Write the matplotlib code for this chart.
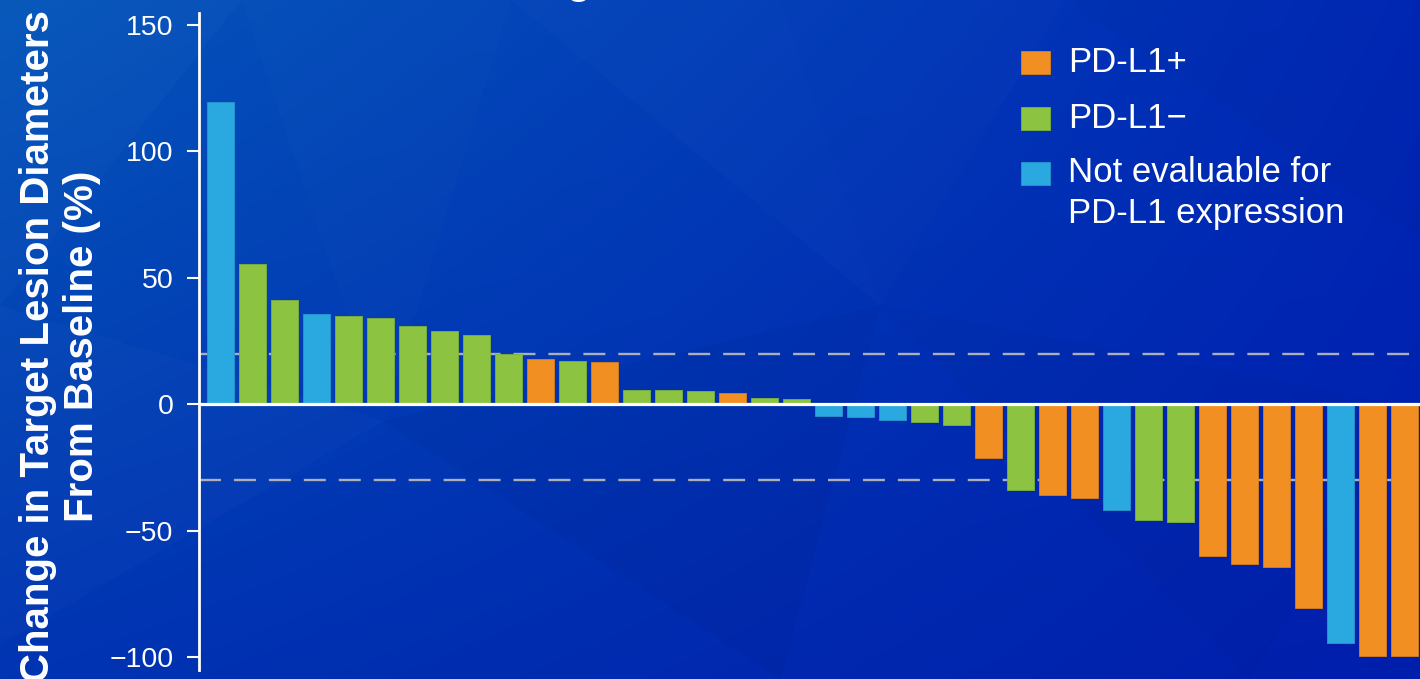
import numpy as np
import matplotlib.pyplot as plt
from matplotlib.patches import Rectangle, Polygon

# Best percentage change in target lesion diameters, one bar per patient
change_pct = [119.4, 55.6, 41.4, 35.8, 34.7, 34.2, 30.8, 28.9, 27.2, 19.9,
              18.0, 17.0, 16.8, 5.7, 5.6, 5.3, 4.6, 2.4, 2.1, -4.6,
              -5.0, -6.1, -7.0, -8.2, -21.4, -34.1, -35.8, -37.2, -41.7, -45.7,
              -46.7, -59.9, -63.0, -64.5, -80.5, -94.3, -99.7, -99.7]
pdl1_status = ['NE', 'neg', 'neg', 'NE', 'neg', 'neg', 'neg', 'neg', 'neg', 'neg',
               'pos', 'neg', 'pos', 'neg', 'neg', 'neg', 'pos', 'neg', 'neg', 'NE',
               'NE', 'NE', 'neg', 'neg', 'pos', 'neg', 'pos', 'pos', 'NE', 'neg',
               'neg', 'pos', 'pos', 'pos', 'pos', 'NE', 'pos', 'pos']
status_order = ['pos', 'neg', 'NE']
status_labels = ['PD-L1+', 'PD-L1\u2212', 'Not evaluable for\nPD-L1 expression']
reference_lines = [20, -30]
y_ticks = [-100, -50, 0, 50, 100, 150]

colors = {'pos': '#F28F22', 'neg': '#8CC442', 'NE': '#2AA8E0'}
edges = {'pos': '#D97F1E', 'neg': '#7DB23B', 'NE': '#2698CF'}

plt.rcParams['font.family'] = ['Liberation Sans', 'DejaVu Sans']

W, H = 1420, 679
fig = plt.figure(figsize=(W / 100, H / 100), dpi=100)

# Blue gradient backdrop with faint facets
bg = fig.add_axes([0, 0, 1, 1], zorder=-10)
yy, xx = np.mgrid[0:1:200j, 0:1:400j]
tl = np.array([5, 86, 186]); tr = np.array([0, 40, 182])
bl = np.array([0, 52, 178]); br = np.array([0, 30, 172])
img = ((1 - xx)[..., None] * ((1 - yy)[..., None] * tl + yy[..., None] * bl)
       + xx[..., None] * ((1 - yy)[..., None] * tr + yy[..., None] * br)) / 255
bg.imshow(img, extent=[0, 1, 1, 0], aspect='auto', interpolation='bicubic')
facets = [
    ([(0, 0), (0.17, 0), (0.0, 0.45)], 'white', 0.02),
    ([(0.17, 0), (0.36, 0), (0.27, 0.62)], 'white', 0.012),
    ([(0.0, 0.45), (0.27, 0.62), (0.0, 0.95)], 'white', 0.018),
    ([(0.36, 0), (0.55, 0.0), (0.62, 0.45)], 'white', 0.015),
    ([(0.27, 0.62), (0.62, 0.45), (0.55, 1.0)], 'black', 0.03),
    ([(0.62, 0.45), (1.0, 0.6), (0.88, 1.0)], 'black', 0.02),
    ([(0.75, 0), (1.0, 0), (1.0, 0.35)], 'black', 0.02),
    ([(0.55, 0.0), (0.75, 0), (0.62, 0.45)], 'white', 0.01),
]
for verts, c, a in facets:
    bg.add_patch(Polygon(verts, closed=True, facecolor=c, alpha=a, lw=0))
bg.set_xlim(0, 1); bg.set_ylim(1, 0)
bg.axis('off')

ax = fig.add_axes([199 / W, 9 / H, 1 - 199 / W, 657 / H])
ax.patch.set_alpha(0)

x = np.arange(len(change_pct))
ax.bar(x, change_pct, width=0.84,
       color=[colors[s] for s in pdl1_status],
       edgecolor=[edges[s] for s in pdl1_status], linewidth=0.6, zorder=2)

for yref in reference_lines:
    ax.axhline(yref, color='#ABAFBA', lw=1.7, ls=(0, (9.3, 5.5)), zorder=1)
ax.axhline(0, color='white', lw=2.3, zorder=3)

ax.set_xlim(-0.672, 37.48)
ax.set_ylim(-105.1, 154.7)
ax.set_yticks(y_ticks)
ax.tick_params(axis='y', colors='white', labelsize=20.5, length=8.5, width=1.5, pad=10)
ax.set_xticks([])
for side in ['top', 'right', 'bottom']:
    ax.spines[side].set_visible(False)
ax.spines['left'].set_color('white')
ax.spines['left'].set_linewidth(2.0)

fig.text(60 / W, 1 - 346 / H, 'Change in Target Lesion Diameters\nFrom Baseline (%)',
         rotation=90, ha='center', va='center', multialignment='center',
         fontsize=29, fontweight='bold', color='white', linespacing=1.2)

fig.text(368 / W, 1 + 6 / H, 'Best Change From Baseline', fontsize=29,
         fontweight='bold', color='white', va='baseline', ha='left')

# Legend drawn as swatches and labels
legend_rows = [62.5, 118.5, 173.5]
for s, lab, yc in zip(status_order, status_labels, legend_rows):
    fig.add_artist(Rectangle((1021 / W, 1 - (yc + 11.5) / H), 29 / W, 23 / H,
                             transform=fig.transFigure, facecolor=colors[s],
                             edgecolor=edges[s], lw=0.6))
    fig.text(1068 / W, 1 - (yc - 17) / H, lab, fontsize=25, color='white',
             va='top', ha='left', linespacing=1.3)

fig.savefig('out.png', dpi=100)
